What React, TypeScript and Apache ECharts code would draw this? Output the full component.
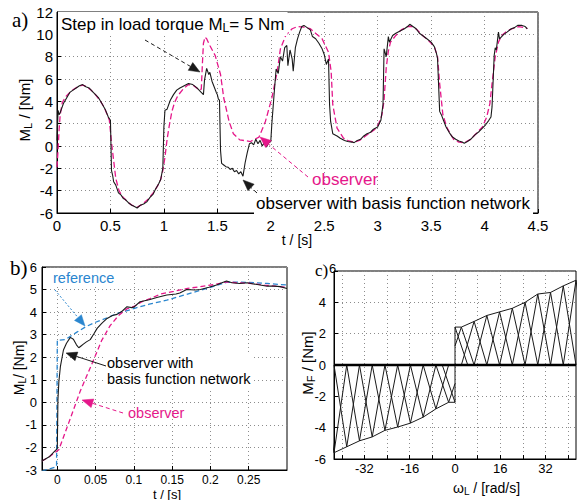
import { useEffect, useRef } from "react";
import * as echarts from "echarts";

// ---------- panel a) : [t (s), M_L (Nm)] ----------
const A_BFN: number[][] = [
  [0, 0.5], [0.01, 3.2], [0.02, 2.8], [0.03, 3.0], [0.06, 3.8], [0.09, 4.3], [0.12, 4.8], [0.15, 5.0], [0.18, 5.2], [0.21, 5.4],
  [0.24, 5.5], [0.27, 5.3], [0.3, 5.2], [0.33, 4.9], [0.36, 4.6], [0.39, 4.3], [0.42, 3.8], [0.45, 3.3], [0.48, 2.6], [0.5, 2.3],
  [0.51, -2.2], [0.52, -2.6], [0.53, -3.2], [0.55, -3.5], [0.575, -4.2], [0.6, -4.4], [0.62, -4.7], [0.64, -4.8], [0.67, -5.1], [0.7, -5.3],
  [0.72, -5.4], [0.75, -5.55], [0.78, -5.3], [0.81, -5.2], [0.84, -5.0], [0.87, -4.6], [0.9, -4.3], [0.92, -3.9], [0.95, -3.4], [0.97, -3.0],
  [0.99, -2.0], [1.0, 1.7], [1.01, 3.2], [1.03, 3.3], [1.06, 4.1], [1.09, 4.6], [1.12, 5.0], [1.15, 5.2], [1.19, 5.4], [1.23, 5.6],
  [1.27, 5.5], [1.31, 5.2], [1.34, 4.9], [1.37, 4.6], [1.38, 5.9], [1.4, 6.95], [1.42, 6.4], [1.43, 6.6], [1.45, 5.8], [1.47, 5.3],
  [1.49, 4.8], [1.5, 4.6], [1.51, 4.2], [1.52, 4.1], [1.53, -0.4], [1.54, -1.55], [1.56, -1.7], [1.58, -1.85], [1.6, -1.9], [1.62, -2.1],
  [1.64, -2.0], [1.66, -2.3], [1.68, -2.2], [1.7, -2.5], [1.72, -2.3], [1.74, -2.7], [1.76, -1.5], [1.78, -0.6], [1.8, 0.2], [1.82, 0.3],
  [1.84, 0.1], [1.86, 0.6], [1.88, 0.2], [1.9, 0.5], [1.92, 0.0], [1.94, 0.3], [1.96, -0.1], [1.98, 0.3], [2.0, 0.4], [2.01, 2.0],
  [2.03, 4.5], [2.05, 6.9], [2.07, 6.5], [2.09, 8.0], [2.11, 7.6], [2.13, 8.8], [2.15, 9.0], [2.16, 7.2], [2.18, 8.6], [2.2, 7.8],
  [2.21, 6.7], [2.23, 8.8], [2.25, 9.6], [2.27, 10.2], [2.29, 10.7], [2.31, 10.8], [2.34, 10.6], [2.37, 10.4], [2.39, 9.8], [2.42, 9.6],
  [2.45, 9.2], [2.48, 8.7], [2.5, 8.2], [2.52, 7.3], [2.54, 7.8], [2.55, 3.7], [2.56, 2.2], [2.58, 1.1], [2.62, 0.9], [2.65, 0.7],
  [2.69, 0.5], [2.72, 0.4], [2.76, 0.35], [2.78, 0.3], [2.81, 0.5], [2.84, 0.6], [2.87, 0.9], [2.9, 1.1], [2.93, 1.2], [2.96, 1.5],
  [3.0, 1.7], [3.03, 2.3], [3.05, 3.7], [3.06, 8.7], [3.08, 8.0], [3.1, 9.8], [3.11, 9.3], [3.14, 9.9], [3.17, 10.1], [3.21, 10.3],
  [3.25, 10.5], [3.28, 10.7], [3.3, 10.9], [3.33, 10.7], [3.36, 10.5], [3.39, 10.1], [3.42, 9.9], [3.46, 9.6], [3.5, 9.3], [3.53, 8.9],
  [3.55, 8.3], [3.56, 7.85], [3.58, 3.1], [3.6, 2.7], [3.62, 2.2], [3.64, 1.7], [3.67, 1.2], [3.7, 0.8], [3.73, 0.6], [3.76, 0.45],
  [3.79, 0.35], [3.81, 0.25], [3.84, 0.4], [3.87, 0.6], [3.91, 1.0], [3.95, 1.3], [3.98, 1.6], [4.01, 1.9], [4.04, 2.3], [4.06, 2.6],
  [4.07, 3.5], [4.09, 8.1], [4.1, 8.8], [4.11, 8.6], [4.13, 10.2], [4.14, 9.6], [4.16, 9.8], [4.18, 10.0], [4.21, 10.2], [4.25, 10.5],
  [4.28, 10.6], [4.31, 10.8], [4.35, 10.8], [4.38, 10.7], [4.4, 10.5],
];

const A_OBS: number[][] = [
  [0, -1.9], [0.01, -0.3], [0.02, 1.5], [0.03, 2.8], [0.05, 3.9], [0.08, 4.4], [0.12, 4.8], [0.16, 5.1], [0.2, 5.35], [0.24, 5.45],
  [0.28, 5.3], [0.32, 5.0], [0.36, 4.6], [0.4, 4.1], [0.44, 3.5], [0.47, 2.8], [0.49, 2.3], [0.51, 0.3], [0.53, -1.3], [0.55, -2.9],
  [0.58, -4.0], [0.61, -4.5], [0.65, -4.9], [0.7, -5.3], [0.75, -5.5], [0.8, -5.2], [0.85, -4.8], [0.9, -4.2], [0.94, -3.6], [0.97, -3.0],
  [0.99, -2.2], [1.01, -1.0], [1.03, 0.6], [1.05, 1.8], [1.075, 3.1], [1.1, 3.9], [1.13, 4.5], [1.18, 5.1], [1.23, 5.5], [1.28, 5.4],
  [1.33, 5.0], [1.35, 5.1], [1.36, 7.3], [1.37, 9.2], [1.385, 9.75], [1.4, 9.6], [1.43, 9.0], [1.48, 8.1], [1.53, 6.4], [1.56, 4.3],
  [1.61, 2.2], [1.65, 1.1], [1.71, 0.55], [1.81, 0.4], [1.89, 0.8], [1.95, 2.2], [2.01, 4.3], [2.06, 6.65], [2.09, 8.7], [2.14, 9.9],
  [2.2, 10.5], [2.25, 10.7], [2.31, 10.65], [2.37, 10.5], [2.43, 10.0], [2.48, 9.6], [2.54, 8.4], [2.565, 6.65], [2.58, 3.7], [2.62, 1.6],
  [2.68, 0.7], [2.73, 0.45], [2.78, 0.35], [2.83, 0.5], [2.88, 0.85], [2.93, 1.2], [2.97, 1.45], [3.01, 2.0], [3.04, 2.8], [3.06, 4.1],
  [3.08, 7.0], [3.1, 8.5], [3.12, 9.3], [3.17, 9.9], [3.22, 10.4], [3.28, 10.7], [3.32, 10.7], [3.37, 10.4], [3.42, 9.9], [3.48, 9.4],
  [3.53, 8.9], [3.56, 8.0], [3.58, 5.6], [3.61, 2.8], [3.65, 1.6], [3.71, 0.6], [3.76, 0.35], [3.81, 0.3], [3.87, 0.6], [3.93, 1.2],
  [3.98, 1.7], [4.02, 2.6], [4.05, 3.8], [4.07, 5.6], [4.1, 8.0], [4.13, 9.3], [4.16, 9.9], [4.21, 10.3], [4.26, 10.5], [4.32, 10.7],
  [4.38, 10.6], [4.4, 10.5],
];

// ---------- panel b) : [t (s), M_L (Nm)] ----------
const B_REF: number[][] = [
  [-0.02, -3.05], [-0.01, -2.95], [-0.001, -2.85], [0.0, 2.75], [0.01, 2.78], [0.015, 2.88], [0.025, 3.1], [0.037, 3.35], [0.05, 3.55],
  [0.065, 3.75], [0.078, 3.94], [0.09, 4.05], [0.1, 4.16], [0.12, 4.35], [0.143, 4.53], [0.165, 4.75], [0.187, 4.97], [0.205, 5.15],
  [0.221, 5.32], [0.235, 5.33], [0.248, 5.32], [0.274, 5.27], [0.3, 5.2],
];

const B_BFN: number[][] = [
  [-0.02, -2.6], [-0.01, -2.4], [-0.003, -2.15], [0.0, -2.05], [0.0008, 0.1], [0.002, 0.9], [0.004, 1.58], [0.008, 2.32], [0.012, 2.62],
  [0.017, 2.88], [0.021, 2.8], [0.025, 2.55], [0.028, 2.42], [0.031, 2.5], [0.034, 2.58], [0.038, 2.68], [0.043, 2.78], [0.048, 3.05],
  [0.052, 3.28], [0.058, 3.5], [0.065, 3.72], [0.072, 3.85], [0.078, 3.9], [0.085, 4.05], [0.091, 4.24], [0.097, 4.2], [0.1, 4.22],
  [0.108, 4.46], [0.12, 4.55], [0.13, 4.65], [0.143, 4.76], [0.155, 4.8], [0.16, 4.85], [0.169, 5.0], [0.18, 4.98], [0.187, 5.0],
  [0.198, 5.1], [0.208, 5.2], [0.215, 5.3], [0.221, 5.38], [0.228, 5.3], [0.238, 5.27], [0.248, 5.3], [0.256, 5.25], [0.265, 5.2],
  [0.274, 5.15], [0.283, 5.15], [0.291, 5.13], [0.3, 5.05],
];

const B_OBS: number[][] = [
  [-0.02, -2.6], [-0.01, -2.4], [0.0, -2.15], [0.002, -2.1], [0.015, -0.9], [0.03, 0.5], [0.047, 1.85], [0.058, 2.75], [0.069, 3.4],
  [0.08, 3.85], [0.091, 4.15], [0.1, 4.25], [0.11, 4.45], [0.121, 4.6], [0.135, 4.8], [0.152, 4.92], [0.17, 5.05], [0.187, 5.13],
  [0.205, 5.22], [0.221, 5.34], [0.235, 5.3], [0.25, 5.28], [0.27, 5.2], [0.285, 5.15], [0.3, 5.1],
];

// ---------- panel c) : basis function network, knots (rad/s) and weights (Nm) ----------
const C_KNOTS_POS = [0, 2.25, 6.75, 11.25, 15.75, 20.25, 24.75, 29.25, 33.75, 38.25, 42.75];
const C_W_POS = [2.42, 2.42, 2.78, 3.16, 3.39, 3.62, 4.0, 4.53, 4.63, 5.05, 5.41];
const C_KNOTS_NEG = [0, -2.25, -6.75, -11.25, -15.75, -20.25, -24.75, -29.25, -33.75, -38.25, -42.75];
const C_W_NEG = [-2.38, -2.38, -2.8, -3.33, -3.71, -3.96, -4.17, -4.59, -4.84, -5.22, -5.6];

const B_X_LABELS = [0, 0.05, 0.1, 0.15, 0.2, 0.25];
const C_X_LABELS = [-32, -16, 0, 16, 32];
const C_X_GRID = [-40, -32, -24, -16, -8, 0, 8, 16, 24, 32, 40];
const C_Y_TOP = 6;

const MAGENTA = "#E5178A";
const BLUE = "#2A86CF";
const BLACK = "#1a1a1a";
const GRIDC = "#8c8c8c";
const SANS = "'Liberation Sans', Arial, Helvetica, sans-serif";
const SERIF = "'Liberation Serif', 'Times New Roman', serif";

function hatSegments(knots: number[], weights: number[]): number[][][] {
  const s = Math.abs(knots[2] - knots[1]);
  const sg = Math.sign(knots[knots.length - 1]);
  return knots.map((c, i) => {
    const w = weights[i];
    const start = c - sg * s;
    const first = sg * start < 0 ? [0, w * (1 - Math.abs(c) / s)] : [start, 0];
    return [first, [c, w], [c + sg * s, 0]];
  });
}

function envelope(knots: number[], weights: number[]): number[][] {
  return [[0, 0], ...knots.map((k, i) => [k, weights[i]])];
}

function sub(fs: number, color: string) {
  return {
    s: { fontSize: fs, lineHeight: fs, verticalAlign: "bottom", fontFamily: SANS, fill: color, color },
  };
}

function text(x: number, y: number, t: string, o: any = {}) {
  const fs = o.fontSize ?? 15;
  const fill = o.fill ?? "#000";
  return {
    type: "text",
    x,
    y,
    z: 70,
    rotation: o.rotation ?? 0,
    style: {
      text: t,
      fontFamily: o.fontFamily ?? SANS,
      fontSize: fs,
      lineHeight: o.lineHeight ?? Math.round(fs * 1.2),
      fill,
      align: o.align ?? "left",
      verticalAlign: o.verticalAlign ?? "middle",
      backgroundColor: o.bg,
      padding: o.padding,
      rich: sub(Math.round(fs * 0.72), fill),
    },
  };
}

function arrow(x1: number, y1: number, x2: number, y2: number, color: string, dash: number[] | null) {
  const dx = x2 - x1;
  const dy = y2 - y1;
  const len = Math.hypot(dx, dy);
  const ux = dx / len;
  const uy = dy / len;
  const L = 11;
  const W = 4.5;
  const bx = x2 - ux * L;
  const by = y2 - uy * L;
  return [
    {
      type: "line",
      z: 72,
      shape: { x1, y1, x2: bx, y2: by },
      style: { stroke: color, lineWidth: 1, lineDash: dash ?? undefined },
    },
    {
      type: "polygon",
      z: 72,
      shape: { points: [[x2, y2], [bx - uy * W, by + ux * W], [bx + uy * W, by - ux * W]] },
      style: { fill: color, stroke: color, lineWidth: 0.5 },
    },
  ];
}

function axisBase(fs: number, margin: number) {
  return {
    type: "value",
    axisLine: { show: true, onZero: false, lineStyle: { color: "#000", width: 1 } },
    axisTick: { show: true, inside: true, length: 4, lineStyle: { color: "#000" } },
    splitLine: { show: true, lineStyle: { color: GRIDC, type: [1, 3], width: 1 } },
    axisLabel: { color: "#000", fontFamily: SANS, fontSize: fs, margin },
  };
}

function lineSeries(data: number[][], idx: number, color: string, width: number, dash: any, z = 3) {
  return {
    type: "line",
    xAxisIndex: idx,
    yAxisIndex: idx,
    data,
    symbol: "none",
    showSymbol: false,
    silent: true,
    z,
    lineStyle: { color, width, type: dash },
  };
}

export default function App() {
  const ref = useRef<HTMLDivElement>(null);
  useEffect(() => {
    const chart = echarts.init(ref.current!, null, { renderer: "svg" });

    const cSeries: any[] = [];
    hatSegments(C_KNOTS_POS, C_W_POS).forEach((seg) => cSeries.push(lineSeries(seg, 2, BLACK, 1, "solid")));
    hatSegments(C_KNOTS_NEG, C_W_NEG).forEach((seg) => cSeries.push(lineSeries(seg, 2, BLACK, 1, "solid")));
    cSeries.push(lineSeries(envelope(C_KNOTS_POS, C_W_POS), 2, BLACK, 1, "solid"));
    cSeries.push(lineSeries(envelope(C_KNOTS_NEG, C_W_NEG), 2, BLACK, 1, "solid"));
    cSeries.push(
      lineSeries([[C_KNOTS_NEG[C_KNOTS_NEG.length - 1], 0], [C_KNOTS_POS[C_KNOTS_POS.length - 1], 0]], 2, "#000", 2.6, "solid", 5)
    );

    const xa: any = axisBase(15, 5);
    const ya: any = axisBase(15, 4);
    const xb: any = axisBase(12, 4);
    const yb: any = axisBase(13, 5);
    const xc: any = axisBase(13, 3);
    const yc: any = axisBase(13, 8);

    const option: any = {
      animation: false,
      backgroundColor: "#fff",
      grid: [
        { left: 57, top: 12, width: 481, height: 201, show: true, borderColor: "#000", borderWidth: 1, backgroundColor: "#fff" },
        { left: 42, top: 267, width: 245, height: 203, show: true, borderColor: "#000", borderWidth: 1, backgroundColor: "#fff" },
        { left: 334, top: 271, width: 242, height: 188, show: true, borderColor: "#000", borderWidth: 1, backgroundColor: "#fff" },
      ],
      xAxis: [
        { ...xa, gridIndex: 0, min: 0, max: 4.5, interval: 0.5 },
        {
          ...xb,
          gridIndex: 1,
          min: -0.02,
          max: 0.3,
          axisLabel: { ...xb.axisLabel, customValues: B_X_LABELS },
          axisTick: { ...xb.axisTick, customValues: B_X_LABELS },
        },
        {
          ...xc,
          gridIndex: 2,
          min: C_KNOTS_NEG[C_KNOTS_NEG.length - 1],
          max: C_KNOTS_POS[C_KNOTS_POS.length - 1],
          axisLabel: { ...xc.axisLabel, customValues: C_X_LABELS },
          axisTick: { ...xc.axisTick, customValues: C_X_GRID },
        },
      ],
      yAxis: [
        { ...ya, gridIndex: 0, min: -6, max: 12, interval: 2 },
        { ...yb, gridIndex: 1, min: -3, max: 6, interval: 1 },
        {
          ...yc,
          gridIndex: 2,
          min: -6,
          max: C_Y_TOP,
          interval: 2,
          axisLabel: { ...yc.axisLabel, formatter: (v: number) => (v === C_Y_TOP ? "" : String(v)) },
        },
      ],
      series: [
        lineSeries(A_OBS, 0, MAGENTA, 1.3, [6, 3]),
        lineSeries(A_BFN, 0, BLACK, 1.1, "solid", 4),
        lineSeries(B_REF, 1, BLUE, 1.3, [5, 3]),
        lineSeries(B_OBS, 1, MAGENTA, 1.3, [5, 3]),
        lineSeries(B_BFN, 1, BLACK, 1.1, "solid", 4),
        ...cSeries,
      ],
      graphic: [
        // panel labels
        text(12, 20, "a)", { fontFamily: SERIF, fontSize: 21 }),
        text(10, 268, "b)", { fontFamily: SERIF, fontSize: 21 }),
        text(315, 270, "c)", { fontFamily: SERIF, fontSize: 17 }),
        text(329, 268, String(C_Y_TOP), { fontSize: 13 }),
        // axis names
        text(24, 110, "M{s|L} / [Nm]", { rotation: Math.PI / 2, align: "center", fontSize: 15 }),
        text(297, 240, "t / [s]", { align: "center", fontSize: 14 }),
        text(19, 368, "M{s|L}/ [Nm]", { rotation: Math.PI / 2, align: "center", fontSize: 14 }),
        text(167, 494, "t / [s]", { align: "center", fontSize: 13 }),
        text(307, 363, "M{s|F} / [Nm]", { rotation: Math.PI / 2, align: "center", fontSize: 15 }),
        text(453, 488, "ω{s|L} / [rad/s]", { fontSize: 14 }),
        // panel a annotations
        text(58, 24, "Step in load torque M{s|L}= 5 Nm", { fontSize: 17, bg: "#fff", padding: [2, 3, 2, 3] }),
        text(254, 203, "observer with basis function network", { fontSize: 17, bg: "#fff", padding: [1, 3, 1, 2] }),
        text(312, 179, "observer", { fontSize: 17, fill: MAGENTA }),
        ...arrow(145, 40, 200, 72, BLACK, [4, 3]),
        ...arrow(308, 177, 260, 137, MAGENTA, [4, 3]),
        ...arrow(257, 193, 243, 180, BLACK, [4, 3]),
        // panel b annotations
        text(52, 277.5, "reference", { fontSize: 14.5, fill: BLUE, bg: "#fff", padding: [0, 1, 0, 1] }),
        text(106, 371, "observer with\nbasis function network", { fontSize: 14.5, lineHeight: 16.5, bg: "#fff", padding: [1, 2, 1, 1] }),
        text(128, 413, "observer", { fontSize: 14.5, fill: MAGENTA }),
        ...arrow(55, 290, 85, 326, BLUE, [2, 2]),
        ...arrow(106, 366, 66, 353, BLACK, null),
        ...arrow(123, 413, 82, 400, MAGENTA, [4, 3]),
      ],
    };

    chart.setOption(option);
    return () => chart.dispose();
  }, []);

  return (
    <div
      ref={ref}
      style={{ position: "fixed", left: 0, top: 0, width: 583, height: 500, background: "#fff" }}
    />
  );
}
